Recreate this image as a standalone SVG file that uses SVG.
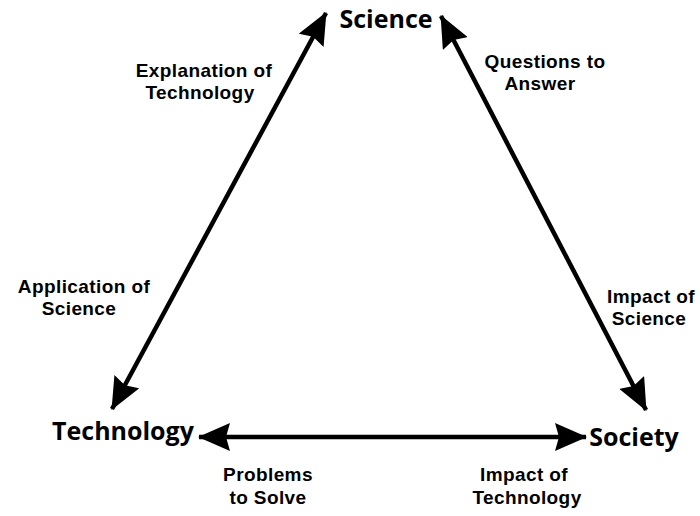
<svg xmlns="http://www.w3.org/2000/svg" width="700" height="516" viewBox="0 0 700 516">
<style>
.node{font-family:"Open Sans","Noto Sans",sans-serif;font-weight:700;font-size:25px;fill:#000;text-anchor:middle}
.lbl{font-family:"Liberation Sans",Arial,sans-serif;font-weight:700;font-size:19px;letter-spacing:0.4px;fill:#000;text-anchor:middle}
.conn{stroke:#000;stroke-width:4.5;fill:none;marker-start:url(#ah);marker-end:url(#ah)}
</style>
<defs>
<marker id="ah" markerUnits="userSpaceOnUse" viewBox="0 0 32 28" refX="31" refY="14" markerWidth="32" markerHeight="28" orient="auto-start-reverse">
<path d="M0,0 L32,14 L0,28 L4,14 Z" fill="#000"/>
</marker>
</defs>
<rect width="700" height="516" fill="#fff"/>
<g id="connectors">
<line class="conn" x1="326" y1="13" x2="112" y2="409"/>
<line class="conn" x1="441" y1="16" x2="646" y2="410"/>
<line class="conn" x1="199" y1="437" x2="586" y2="437"/>
</g>
<g id="science"><text class="node" x="386" y="28">Science</text></g>
<g id="technology"><text class="node" x="123" y="440">Technology</text></g>
<g id="society"><text class="node" x="634" y="446">Society</text></g>
<g id="labels">
<text class="lbl" x="204" y="77">Explanation of</text>
<text class="lbl" x="200" y="99">Technology</text>
<text class="lbl" x="545" y="68">Questions to</text>
<text class="lbl" x="540" y="90">Answer</text>
<text class="lbl" x="84" y="293">Application of</text>
<text class="lbl" x="79" y="315">Science</text>
<text class="lbl" x="651" y="303">Impact of</text>
<text class="lbl" x="649" y="325">Science</text>
<text class="lbl" x="268" y="481">Problems</text>
<text class="lbl" x="268" y="504">to Solve</text>
<text class="lbl" x="524" y="481">Impact of</text>
<text class="lbl" x="527" y="504">Technology</text>
</g>
</svg>
